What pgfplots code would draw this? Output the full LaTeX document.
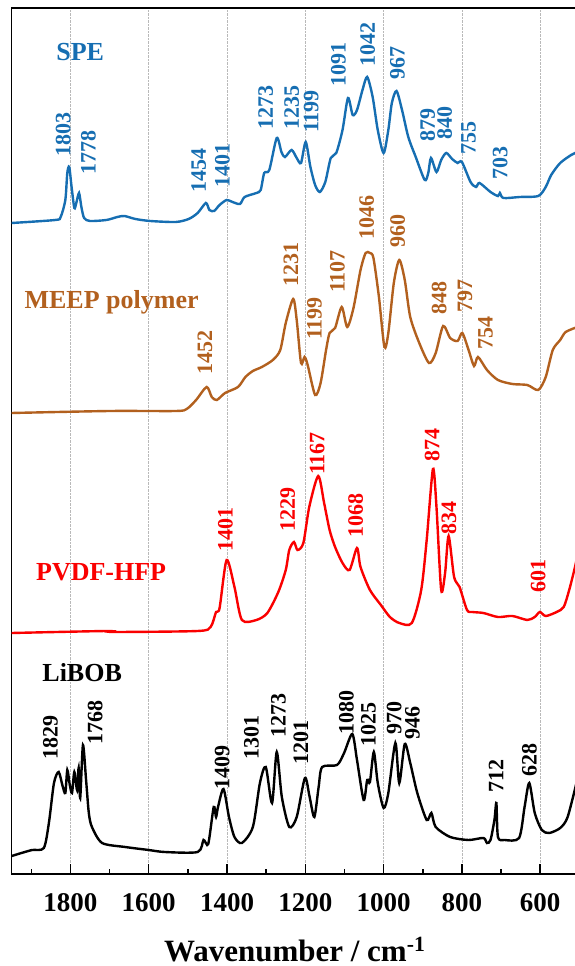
\documentclass[border=0pt]{standalone}
\usepackage{fontspec}
\setmainfont{Liberation Serif}
\usepackage{pgfplots}
\pgfplotsset{compat=1.18}
\definecolor{speblue}{RGB}{22,110,178}
\definecolor{meepbrown}{RGB}{178,96,30}
\definecolor{pvdfred}{RGB}{250,0,0}
\newcommand{\pk}{\fontsize{22}{22}\selectfont\bfseries}
\newcommand{\nm}{\fontsize{26}{26}\selectfont\bfseries}
\begin{document}
\begin{tikzpicture}
\begin{axis}[
  name=ax,
  scale only axis, width=566pt, height=866pt,
  x dir=reverse, xmin=504.3, xmax=1950, ymin=0, ymax=866,
  axis line style={line width=1.6pt},
  ytick=\empty,
  xtick={600,800,1000,1200,1400,1600,1800},
  minor xtick={700,900,1100,1300,1500,1700,1900},
  xtick pos=lower, tick align=inside,
  major tick length=10.5pt, minor tick length=5.5pt,
  tick style={line width=1.5pt, black},
  xmajorgrids, grid style={densely dotted, gray!55, line width=0.6pt},
  xticklabel style={font=\fontsize{27}{27}\selectfont\bfseries, yshift=-16pt},
  /pgf/number format/assume math mode=true,
  /pgf/number format/1000 sep={},
  xlabel={Wavenumber / cm\textsuperscript{-1}},
  xlabel style={font=\fontsize{31}{31}\selectfont\bfseries, at={(axis description cs:0.5,0)}, anchor=base, yshift=-87pt},
  every axis plot/.append style={line width=2.4pt, smooth, tension=0.45},
]
% SPE
\addplot[speblue] coordinates {(1950,651) (1839,654) (1825,657) (1813,674) (1808,701) (1803,707) (1797,687) (1790,666) (1785,671) (1778,681) (1772,667) (1765,656) (1750,653) (1708,654) (1680,657) (1662,658) (1634,655) (1596,653) (1531,652) (1498,655) (1475,661) (1454,671) (1445,664) (1433,663) (1419,669) (1401,674) (1386,672) (1367,670) (1355,677) (1325,681) (1314,684) (1305,701) (1292,704) (1273,736) (1261,722) (1252,717) (1235,724) (1222,716) (1211,711) (1199,732) (1187,707) (1175,689) (1163,682) (1149,692) (1135,716) (1121,721) (1105,744) (1091,776) (1079,759) (1068,764) (1054,784) (1042,797) (1028,777) (1015,744) (1000,721) (988,744) (979,771) (967,783) (953,764) (937,737) (918,717) (895,694) (886,701) (879,716) (865,702) (853,714) (840,721) (825,715) (811,711) (800,712) (778,692) (764,687) (755,691) (727,682) (708,678) (703,681) (694,676) (652,677) (605,678) (586,687) (572,699) (549,711) (521,719) (505,722)};
% MEEP
\addplot[meepbrown] coordinates {(1950,461) (1699,463) (1531,463) (1503,465) (1479,474) (1452,487) (1439,477) (1426,474) (1405,481) (1372,487) (1353,497) (1334,503) (1311,507) (1283,514) (1264,524) (1250,551) (1231,575) (1222,554) (1211,511) (1202,517) (1194,509) (1175,479) (1161,491) (1147,524) (1138,541) (1124,546) (1107,567) (1093,547) (1077,566) (1059,604) (1046,621) (1035,621) (1026,616) (1012,577) (998,527) (988,541) (974,591) (960,614) (946,594) (932,557) (909,531) (884,511) (867,521) (848,548) (830,536) (811,533) (799,541) (783,524) (769,508) (759,517) (736,504) (708,494) (671,490) (633,489) (605,484) (586,497) (568,524) (549,534) (535,542) (505,547)};
% PVDF-HFP
\addplot[pvdfred] coordinates {(1950,241) (1708,243) (1690,242) (1475,243) (1442,247) (1428,262) (1419,266) (1401,314) (1381,287) (1362,254) (1325,254) (1297,261) (1269,282) (1250,304) (1241,324) (1229,332) (1220,324) (1205,331) (1190,367) (1167,398) (1152,371) (1138,344) (1124,327) (1105,311) (1087,304) (1068,326) (1059,307) (1035,284) (1007,269) (984,257) (960,251) (928,251) (904,284) (890,334) (874,405) (865,367) (853,284) (843,301) (834,338) (820,297) (806,287) (787,264) (773,262) (745,261) (708,257) (671,258) (633,254) (614,257) (601,262) (586,258) (558,262) (540,267) (526,284) (513,304) (505,318)};
% LiBOB
\addplot[black] coordinates {(1950,18) (1925,21) (1898,24) (1868,26) (1855,51) (1842,91) (1830,102) (1820,88) (1813,81) (1808,104) (1802,90) (1796,81) (1790,102) (1783,84) (1779,106) (1775,76) (1768,129) (1760,94) (1753,61) (1745,47) (1719,31) (1660,27) (1600,24) (1559,22) (1475,22) (1460,34) (1448,30) (1434,67) (1428,57) (1423,67) (1409,85) (1395,57) (1381,37) (1362,31) (1334,47) (1316,91) (1301,107) (1285,71) (1273,122) (1260,77) (1241,47) (1222,57) (1201,96) (1189,77) (1177,57) (1166,87) (1157,107) (1119,109) (1101,121) (1080,140) (1068,114) (1051,74) (1042,94) (1035,92) (1025,122) (1015,91) (1000,66) (988,81) (970,131) (960,91) (946,130) (932,111) (914,81) (890,54) (878,61) (867,47) (830,37) (783,34) (745,36) (736,31) (727,34) (717,54) (712,71) (708,37) (691,34) (654,36) (640,67) (628,91) (614,61) (596,44) (577,41) (549,46) (530,57) (505,95)};

% names
\node[speblue, font=\nm] at (axis cs:1775,821.5) {SPE};
\node[meepbrown, font=\nm] at (axis cs:1694.8,572) {MEEP polymer};
\node[pvdfred, font=\nm] at (axis cs:1721.6,301.5) {PVDF-HFP};
\node[black, font=\nm] at (axis cs:1770,201.5) {LiBOB};

% SPE peaks
\begin{scope}[every node/.style={speblue, font=\pk, rotate=90, anchor=west, inner sep=0pt}]
\node at (axis cs:1818.6,717) {1803};
\node at (axis cs:1754.3,699) {1778};
\node at (axis cs:1472.3,681) {1454};
\node at (axis cs:1411.5,686) {1401};
\node at (axis cs:1300.9,744) {1273};
\node at (axis cs:1234.7,744) {1235};
\node at (axis cs:1185.2,741) {1199};
\node at (axis cs:1115.5,787) {1091};
\node at (axis cs:1040.6,807) {1042};
\node at (axis cs:965,794) {967};
\node at (axis cs:887.3,732) {879};
\node at (axis cs:844.4,734) {840};
\node at (axis cs:782.9,719) {755};
\node at (axis cs:702.5,694) {703};
\end{scope}
% MEEP peaks
\begin{scope}[every node/.style={meepbrown, font=\pk, rotate=90, anchor=west, inner sep=0pt}]
\node at (axis cs:1456.4,499) {1452};
\node at (axis cs:1236.8,587) {1231};
\node at (axis cs:1177,534) {1199};
\node at (axis cs:1118.3,581) {1107};
\node at (axis cs:1043.4,634) {1046};
\node at (axis cs:964,626) {960};
\node at (axis cs:858.2,559) {848};
\node at (axis cs:792,561) {797};
\node at (axis cs:739.7,524) {754};
\end{scope}
% PVDF peaks
\begin{scope}[every node/.style={pvdfred, font=\pk, rotate=90, anchor=west, inner sep=0pt}]
\node at (axis cs:1404,322) {1401};
\node at (axis cs:1245.2,342) {1229};
\node at (axis cs:1169.8,399) {1167};
\node at (axis cs:1071.5,336) {1068};
\node at (axis cs:876.1,412) {874};
\node at (axis cs:833.2,339) {834};
\node at (axis cs:605.4,281) {601};
\end{scope}
% LiBOB peaks
\begin{scope}[every node/.style={black, font=\pk, rotate=90, anchor=west, inner sep=0pt}]
\node at (axis cs:1851,114) {1829};
\node at (axis cs:1736.7,129) {1768};
\node at (axis cs:1412.5,84) {1409};
\node at (axis cs:1337.7,114) {1301};
\node at (axis cs:1268.7,136) {1273};
\node at (axis cs:1211.5,109) {1201};
\node at (axis cs:1094.8,139) {1080};
\node at (axis cs:1038.8,127) {1025};
\node at (axis cs:973.2,139) {970};
\node at (axis cs:926.7,134) {946};
\node at (axis cs:712.6,81) {712};
\node at (axis cs:627.6,97) {628};
\end{scope}
\end{axis}
\pgfresetboundingbox
\path[use as bounding box] ([xshift=-11.7pt,yshift=-92pt]ax.south west) rectangle ([xshift=562.3pt,yshift=8pt]ax.north west);
\end{tikzpicture}
\end{document}
